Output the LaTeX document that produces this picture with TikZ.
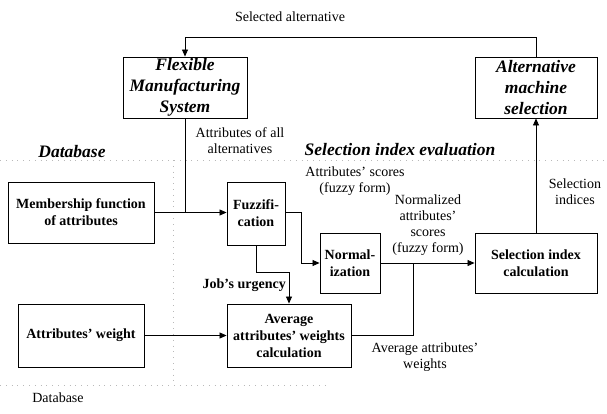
\documentclass[tikz,border=0pt]{standalone}
\usepackage{fontspec}
\setmainfont{Liberation Serif}
\usetikzlibrary{arrows.meta}
\begin{document}
\begin{tikzpicture}[x=1pt,y=-1pt,
  box/.style={draw, line width=0.9pt, inner sep=0pt, align=center},
  conn/.style={line width=0.8pt},
  arr/.style={conn, -{Triangle[length=7pt,width=6pt]}},
  lbl/.style={align=center, inner sep=0pt, font=\fontsize{14}{16}\selectfont},
  bx/.style={font=\fontsize{14}{17}\selectfont\bfseries},
  hd/.style={font=\fontsize{17.5}{21}\selectfont\bfseries\itshape},
  faint/.style={gray!55, line width=0.5pt, dash pattern=on 0.8pt off 5pt}]
\useasboundingbox (0,0) rectangle (607,413);

% faint region borders
\draw[faint] (0,160) -- (607,160);
\draw[faint] (173,160) -- (173,385);
\draw[faint] (0,385) -- (330,385);

% boxes
\node[box, hd, minimum width=124pt, minimum height=61pt] (fms) at (185,87.5) {Flexible\\Manufacturing\\System};
\node[box, hd, minimum width=122pt, minimum height=61pt] (ams) at (536,87.5) {Alternative\\machine\\selection};
\node[box, bx, minimum width=146pt, minimum height=61pt] (mem) at (81,212.5) {Membership function\\of attributes};
\node[box, bx, minimum width=58pt, minimum height=63pt] (fuz) at (256,213.5) {Fuzzifi-\\cation};
\node[box, bx, minimum width=60pt, minimum height=60pt] (nor) at (350,263) {Normal-\\ization};
\node[box, bx, minimum width=122pt, minimum height=60pt] (sel) at (536,263) {Selection index\\calculation};
\node[box, bx, minimum width=126pt, minimum height=63pt] (aw) at (81,335.5) {Attributes' weight};
\node[box, bx, minimum width=124pt, minimum height=63pt] (avg) at (289,335.5) {Average\\attributes' weights\\calculation};

% helper coordinates
\coordinate (top) at (0,37);
\coordinate (j1) at (fms.south |- mem.east);
\coordinate (c1) at (301,0);
\coordinate (c2) at (0,272);
\coordinate (c3) at (413,0);

% connectors
\draw[arr] (ams.north) -- (ams.north |- top) -- (fms.north |- top) -- (fms.north);
\draw[conn] (fms.south) -- (j1);
\draw[arr] (mem.east) -- (fuz.west |- mem.east);
\draw[arr] (fuz.east |- mem.east) -- (c1 |- mem.east) -- (c1 |- nor.west) -- (nor.west);
\draw[arr] (fuz.south) -- (fuz.south |- c2) -- (avg.north |- c2) -- (avg.north);
\draw[arr] (nor.east) -- (sel.west);
\draw[conn] (avg.east) -- (c3 |- avg.east) -- (c3 |- sel.west);
\draw[arr] (sel.north) -- (ams.south);
\draw[arr] (aw.east) -- (avg.west);

% labels
\node[lbl] (l1) at (290,17) {Selected alternative};
\node[lbl] (l2) at (240,141) {Attributes of all\\alternatives};
\node[hd, inner sep=0pt] (l3) at (72,152) {Database};
\node[hd, inner sep=0pt] (l4) at (400,150) {Selection index evaluation};
\node[lbl] (l5) at (355,181) {Attributes' scores\\(fuzzy form)};
\node[lbl] (l6) at (428,225) {Normalized\\attributes'\\scores\\(fuzzy form)};
\node[lbl] (l7) at (575,192) {Selection\\indices};
\node[lbl, bx, anchor=east] (l8) at (286,285) {Job's urgency};
\node[lbl] (l9) at (425,357) {Average attributes'\\weights};
\node[lbl] (l10) at (58,398) {Database};
\end{tikzpicture}
\end{document}
